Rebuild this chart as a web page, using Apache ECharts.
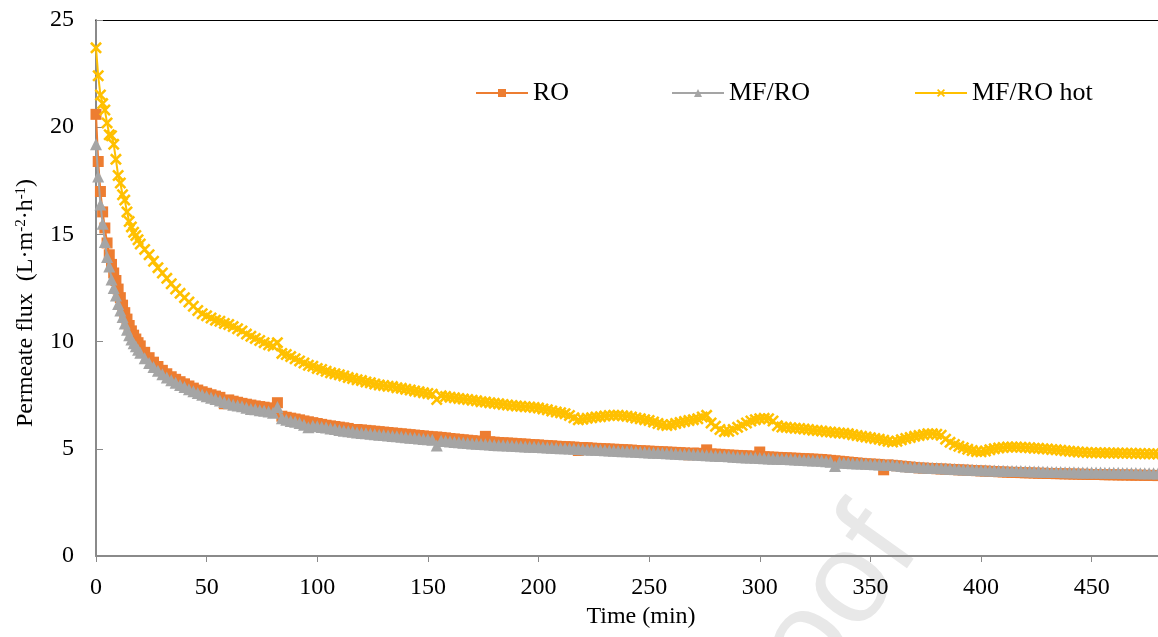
<!DOCTYPE html>
<html>
<head>
<meta charset="utf-8">
<title>Permeate flux vs time</title>
<script src="https://cdn.jsdelivr.net/npm/echarts@6/dist/echarts.min.js"></script>
<style>
  html, body { margin: 0; padding: 0; background: #fff; }
  #chart { width: 1158px; height: 637px; }
</style>
</head>
<body>
<div id="chart"></div>
<script>
// Sampling times (min)
const timeMin = [
  0, 1, 2, 3, 4, 5, 6, 7, 8, 9,
  10, 11, 12, 13, 14, 15, 16, 17, 18, 19,
  20, 22, 24, 26, 28, 30, 32, 34, 36, 38,
  40, 42, 44, 46, 48, 50, 52, 54, 56, 58,
  60, 62, 64, 66, 68, 70, 72, 74, 76, 78,
  80, 82, 84, 86, 88, 90, 92, 94, 96, 98,
  100, 102, 104, 106, 108, 110, 112, 114, 116, 118,
  120, 122, 124, 126, 128, 130, 132, 134, 136, 138,
  140, 142, 144, 146, 148, 150, 152, 154, 156, 158,
  160, 162, 164, 166, 168, 170, 172, 174, 176, 178,
  180, 182, 184, 186, 188, 190, 192, 194, 196, 198,
  200, 202, 204, 206, 208, 210, 212, 214, 216, 218,
  220, 222, 224, 226, 228, 230, 232, 234, 236, 238,
  240, 242, 244, 246, 248, 250, 252, 254, 256, 258,
  260, 262, 264, 266, 268, 270, 272, 274, 276, 278,
  280, 282, 284, 286, 288, 290, 292, 294, 296, 298,
  300, 302, 304, 306, 308, 310, 312, 314, 316, 318,
  320, 322, 324, 326, 328, 330, 332, 334, 336, 338,
  340, 342, 344, 346, 348, 350, 352, 354, 356, 358,
  360, 362, 364, 366, 368, 370, 372, 374, 376, 378,
  380, 382, 384, 386, 388, 390, 392, 394, 396, 398,
  400, 402, 404, 406, 408, 410, 412, 414, 416, 418,
  420, 422, 424, 426, 428, 430, 432, 434, 436, 438,
  440, 442, 444, 446, 448, 450, 452, 454, 456, 458,
  460, 462, 464, 466, 468, 470, 472, 474, 476, 478,
  480
];

// Permeate flux, RO (L·m-2·h-1)
const fluxRO = [
  20.6, 18.4, 17.0, 16.05, 15.3, 14.6, 14.05, 13.6, 13.2, 12.85,
  12.45, 12.05, 11.7, 11.35, 11.05, 10.75, 10.5, 10.3, 10.12, 9.95,
  9.8, 9.5, 9.25, 9.04, 8.84, 8.66, 8.5, 8.36, 8.24, 8.13,
  8.03, 7.93, 7.83, 7.74, 7.66, 7.59, 7.52, 7.46, 7.4, 7.1,
  7.28, 7.22, 7.17, 7.12, 7.08, 7.04, 7.0, 6.97, 6.94, 6.91,
  6.88, 7.15, 6.52, 6.47, 6.43, 6.39, 6.35, 6.3, 6.26, 6.22,
  6.18, 6.14, 6.1, 6.07, 6.04, 6.01, 5.98, 5.95, 5.8, 5.9,
  5.88, 5.86, 5.84, 5.82, 5.8, 5.78, 5.76, 5.74, 5.72, 5.7,
  5.68, 5.66, 5.64, 5.62, 5.6, 5.58, 5.56, 5.55, 5.53, 5.51,
  5.48, 5.46, 5.44, 5.42, 5.4, 5.38, 5.36, 5.35, 5.58, 5.33,
  5.31, 5.29, 5.28, 5.27, 5.26, 5.24, 5.23, 5.22, 5.2, 5.19,
  5.18, 5.16, 5.15, 5.14, 5.12, 5.11, 5.1, 5.09, 5.08, 4.92,
  5.06, 5.05, 5.03, 5.02, 5.01, 5.0, 4.99, 4.98, 4.97, 4.96,
  4.95, 4.94, 4.92, 4.91, 4.9, 4.89, 4.88, 4.87, 4.86, 4.85,
  4.84, 4.83, 4.82, 4.81, 4.72, 4.8, 4.79, 4.78, 4.95, 4.76,
  4.75, 4.74, 4.72, 4.71, 4.7, 4.69, 4.68, 4.67, 4.66, 4.65,
  4.85, 4.63, 4.62, 4.61, 4.6, 4.59, 4.58, 4.57, 4.56, 4.55,
  4.54, 4.53, 4.52, 4.51, 4.5, 4.48, 4.46, 4.44, 4.42, 4.4,
  4.38, 4.36, 4.34, 4.32, 4.3, 4.29, 4.28, 4.27, 4.02, 4.25,
  4.23, 4.21, 4.19, 4.17, 4.15, 4.13, 4.11, 4.1, 4.09, 4.08,
  4.07, 4.06, 4.05, 4.04, 4.03, 4.02, 4.01, 4.0, 3.99, 3.98,
  3.97, 3.96, 3.95, 3.94, 3.93, 3.92, 3.91, 3.9, 3.9, 3.89,
  3.88, 3.88, 3.87, 3.86, 3.86, 3.85, 3.85, 3.84, 3.84, 3.83,
  3.83, 3.82, 3.82, 3.81, 3.81, 3.8, 3.8, 3.8, 3.79, 3.79,
  3.79, 3.78, 3.78, 3.78, 3.77, 3.77, 3.77, 3.76, 3.76, 3.76,
  3.75
];

// Permeate flux, MF/RO
const fluxMFRO = [
  19.2, 17.7, 16.4, 15.5, 14.65, 13.95, 13.5, 12.9, 12.5, 12.15,
  11.75, 11.45, 11.15, 10.85, 10.55, 10.3, 10.1, 9.92, 9.78, 9.62,
  9.48, 9.22, 9.0, 8.82, 8.64, 8.48, 8.32, 8.2, 8.08, 7.98,
  7.88, 7.78, 7.68, 7.6, 7.52, 7.45, 7.38, 7.32, 7.25, 7.18,
  7.12, 7.06, 7.02, 6.98, 6.92, 6.86, 6.84, 6.8, 6.78, 6.74,
  6.68, 6.95, 6.42, 6.36, 6.3, 6.26, 6.2, 6.12, 6.0, 6.08,
  6.05, 6.02, 5.99, 5.95, 5.92, 5.88, 5.84, 5.82, 5.8, 5.76,
  5.74, 5.72, 5.7, 5.68, 5.66, 5.64, 5.62, 5.6, 5.58, 5.56,
  5.54, 5.52, 5.5, 5.48, 5.46, 5.44, 5.42, 5.15, 5.38, 5.36,
  5.34, 5.32, 5.3, 5.28, 5.27, 5.25, 5.24, 5.22, 5.21, 5.2,
  5.18, 5.17, 5.16, 5.15, 5.14, 5.13, 5.12, 5.11, 5.1, 5.09,
  5.08, 5.07, 5.06, 5.05, 5.04, 5.03, 5.02, 5.01, 5.0, 4.99,
  4.98, 4.97, 4.96, 4.95, 4.94, 4.93, 4.92, 4.91, 4.9, 4.89,
  4.88, 4.87, 4.86, 4.85, 4.84, 4.83, 4.82, 4.81, 4.8, 4.79,
  4.78, 4.77, 4.76, 4.75, 4.74, 4.73, 4.72, 4.71, 4.7, 4.69,
  4.68, 4.67, 4.66, 4.65, 4.63, 4.62, 4.61, 4.6, 4.59, 4.58,
  4.57, 4.56, 4.55, 4.54, 4.54, 4.53, 4.52, 4.51, 4.5, 4.49,
  4.48, 4.47, 4.46, 4.45, 4.44, 4.42, 4.4, 4.2, 4.36, 4.35,
  4.34, 4.33, 4.32, 4.31, 4.3, 4.29, 4.28, 4.27, 4.26, 4.25,
  4.24, 4.22, 4.2, 4.18, 4.16, 4.15, 4.14, 4.13, 4.12, 4.11,
  4.1, 4.09, 4.08, 4.07, 4.06, 4.05, 4.04, 4.03, 4.02, 4.01,
  4.0, 4.0, 3.99, 3.99, 3.98, 3.98, 3.97, 3.97, 3.96, 3.96,
  3.95, 3.95, 3.94, 3.94, 3.93, 3.93, 3.92, 3.92, 3.92, 3.91,
  3.91, 3.91, 3.9, 3.9, 3.9, 3.89, 3.89, 3.89, 3.88, 3.88,
  3.88, 3.88, 3.87, 3.87, 3.87, 3.87, 3.86, 3.86, 3.86, 3.86,
  3.85
];

// Permeate flux, MF/RO hot
const fluxMFROhot = [
  23.7, 22.4, 21.5, 21.1, 20.8, 20.2, 19.65, 19.6, 19.2, 18.5,
  17.75, 17.4, 16.85, 16.6, 16.05, 15.6, 15.35, 15.1, 14.95, 14.75,
  14.55, 14.3, 14.05, 13.75, 13.45, 13.2, 12.95, 12.7, 12.45, 12.25,
  12.05, 11.85, 11.65, 11.45, 11.3, 11.2, 11.1, 11.0, 10.95, 10.85,
  10.8, 10.7, 10.6, 10.5, 10.35, 10.25, 10.15, 10.05, 9.95, 9.85,
  9.8, 9.95, 9.45, 9.4, 9.3, 9.2, 9.1, 9.0, 8.9, 8.85,
  8.75, 8.7, 8.62, 8.55, 8.5, 8.45, 8.4, 8.32, 8.28, 8.22,
  8.18, 8.12, 8.08, 8.02, 7.98, 7.95, 7.92, 7.9, 7.85, 7.82,
  7.78, 7.74, 7.7, 7.66, 7.62, 7.58, 7.55, 7.3, 7.47, 7.44,
  7.41, 7.38, 7.35, 7.32, 7.3, 7.27, 7.24, 7.2, 7.18, 7.15,
  7.12, 7.1, 7.07, 7.04, 7.02, 7.0, 6.98, 6.96, 6.95, 6.93,
  6.9, 6.86, 6.82, 6.76, 6.72, 6.68, 6.64, 6.55, 6.45, 6.35,
  6.38, 6.42, 6.45, 6.48, 6.5, 6.53, 6.55, 6.56, 6.56, 6.54,
  6.52, 6.48, 6.44, 6.4, 6.36, 6.32, 6.25, 6.18, 6.12, 6.09,
  6.12, 6.18, 6.23, 6.27, 6.32, 6.36, 6.4, 6.48, 6.56, 6.2,
  6.05, 5.9, 5.8, 5.82, 5.9, 6.0, 6.1, 6.2, 6.3, 6.36,
  6.4, 6.42, 6.4, 6.3, 6.08, 6.02, 6.0, 5.98, 5.96, 5.95,
  5.92, 5.9, 5.87, 5.85, 5.83, 5.8, 5.78, 5.76, 5.74, 5.72,
  5.7, 5.66, 5.62, 5.58, 5.55, 5.52, 5.48, 5.45, 5.4, 5.35,
  5.32, 5.35, 5.42, 5.48, 5.53, 5.58, 5.62, 5.66, 5.7, 5.7,
  5.68, 5.63, 5.45, 5.3, 5.2, 5.12, 5.05, 4.98, 4.92, 4.87,
  4.86, 4.9, 4.96, 5.0, 5.04, 5.06, 5.08, 5.08, 5.08, 5.07,
  5.06, 5.05, 5.03, 5.02, 5.0, 4.99, 4.97, 4.95, 4.93, 4.91,
  4.89, 4.87, 4.85, 4.84, 4.83, 4.82, 4.82, 4.81, 4.81, 4.8,
  4.8, 4.8, 4.79, 4.79, 4.79, 4.78, 4.78, 4.77, 4.77, 4.77,
  4.76
];

const xTicks = [0, 50, 100, 150, 200, 250, 300, 350, 400, 450];
const yTicks = [0, 5, 10, 15, 20, 25];

const SERIF = '"Liberation Serif", "Times New Roman", serif';
const AXIS_GRAY = '#8a8a8a';
// Cross-shaped marker outline
const CROSS = 'path://M0,1.5L1.5,0L5,3.5L8.5,0L10,1.5L6.5,5L10,8.5L8.5,10L5,6.5L1.5,10L0,8.5L3.5,5Z';

const pairs = ys => timeMin.map((t, i) => [t, ys[i]]);

const chart = echarts.init(document.getElementById('chart'), null, { renderer: 'canvas' });

const legendBase = {
  orient: 'horizontal',
  top: 75,
  itemWidth: 52,
  itemHeight: 10,
  textStyle: { fontFamily: SERIF, fontSize: 26, color: '#000' }
};

chart.setOption({
  animation: false,
  backgroundColor: '#fff',
  grid: { left: 96, right: -1, top: 20, bottom: 81, containLabel: false },
  legend: [
    Object.assign({}, legendBase, { left: 470, data: ['RO'] }),
    Object.assign({}, legendBase, { left: 666, data: ['MF/RO'] }),
    Object.assign({}, legendBase, { left: 909, data: ['MF/RO hot'] })
  ],
  xAxis: [
    {
      type: 'value',
      min: 0,
      max: 480,
      interval: 50,
      name: 'Time (min)',
      nameLocation: 'middle',
      nameGap: 48,
      nameTextStyle: { fontFamily: SERIF, fontSize: 24, color: '#000', padding: [0, 0, 0, 28] },
      axisLine: { show: true, onZero: false, lineStyle: { color: AXIS_GRAY, width: 2 } },
      axisTick: { show: true, inside: false, length: 6, lineStyle: { color: AXIS_GRAY, width: 1 } },
      axisLabel: {
        fontFamily: SERIF, fontSize: 24, color: '#000', margin: 20,
        showMaxLabel: false,
        formatter: v => (xTicks.indexOf(v) >= 0 ? String(v) : '')
      },
      splitLine: { show: false }
    },
    {
      // top frame line
      type: 'value',
      position: 'top',
      min: 0,
      max: 480,
      axisLine: { show: true, onZero: false, lineStyle: { color: '#000', width: 1.2 } },
      axisTick: { show: false },
      axisLabel: { show: false },
      splitLine: { show: false }
    }
  ],
  yAxis: {
    type: 'value',
    min: 0,
    max: 25,
    interval: 5,
    name: 'Permeate flux  (L·m{sup|-2}·h{sup|-1})',
    nameLocation: 'middle',
    nameGap: 58,
    nameTextStyle: {
      fontFamily: SERIF, fontSize: 24, color: '#000',
      padding: [0, 30, 0, 0],
      rich: { sup: { fontFamily: SERIF, fontSize: 15, color: '#000', verticalAlign: 'top' } }
    },
    axisLine: { show: true, lineStyle: { color: AXIS_GRAY, width: 2 } },
    axisTick: { show: true, inside: true, length: 7, lineStyle: { color: AXIS_GRAY, width: 1 } },
    axisLabel: {
      fontFamily: SERIF, fontSize: 24, color: '#000', margin: 22,
      formatter: v => (yTicks.indexOf(v) >= 0 ? String(v) : '')
    },
    splitLine: { show: false }
  },
  graphic: [
    {
      type: 'text',
      z: -10,
      x: 945,
      y: 565,
      rotation: 0.95,
      silent: true,
      style: {
        text: 'Journal Pre-proof',
        fontFamily: '"Liberation Sans", Arial, sans-serif',
        fontSize: 130,
        fill: '#e8e8e8',
        align: 'right',
        verticalAlign: 'bottom'
      }
    }
  ],
  series: [
    {
      name: 'RO',
      type: 'line',
      data: pairs(fluxRO),
      symbol: 'rect',
      symbolSize: 11,
      showSymbol: true,
      showAllSymbol: true,
      color: '#ED7D31',
      lineStyle: { color: '#ED7D31', width: 2 },
      itemStyle: { color: '#ED7D31' },
      z: 2
    },
    {
      name: 'MF/RO',
      type: 'line',
      data: pairs(fluxMFRO),
      symbol: 'triangle',
      symbolSize: 12,
      showSymbol: true,
      showAllSymbol: true,
      color: '#A5A5A5',
      lineStyle: { color: '#A5A5A5', width: 2 },
      itemStyle: { color: '#A5A5A5' },
      z: 3
    },
    {
      name: 'MF/RO hot',
      type: 'line',
      data: pairs(fluxMFROhot),
      symbol: CROSS,
      symbolSize: 12,
      showSymbol: true,
      showAllSymbol: true,
      color: '#FFC000',
      lineStyle: { color: '#FFC000', width: 2 },
      itemStyle: { color: '#FFC000' },
      z: 4
    }
  ]
});
</script>
</body>
</html>
